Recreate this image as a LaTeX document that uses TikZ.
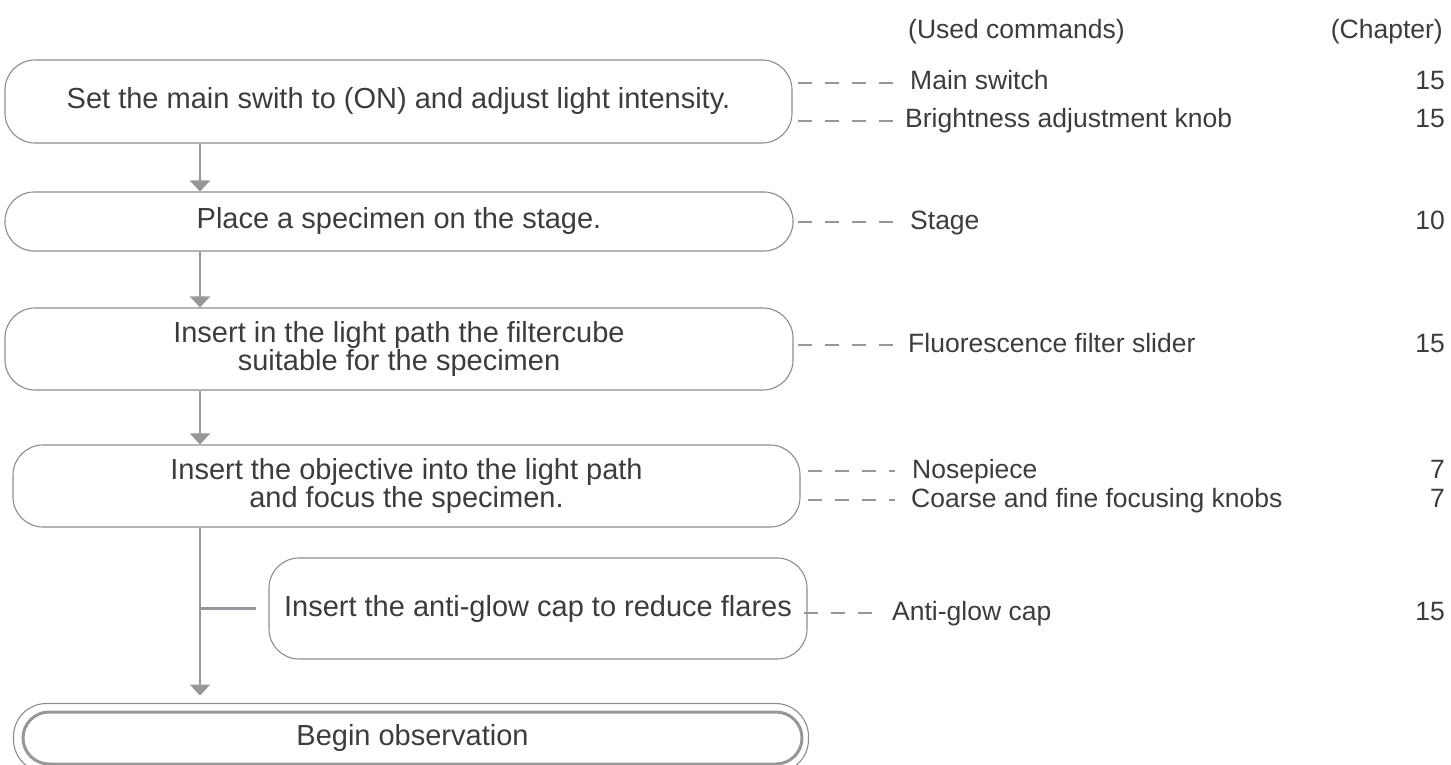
\documentclass[tikz,border=0pt]{standalone}
\usepackage{fontspec}
\setmainfont{Liberation Sans}
\usetikzlibrary{arrows.meta}
\definecolor{linegray}{RGB}{150,150,155}
\definecolor{boxgray}{RGB}{140,140,140}
\definecolor{txtgray}{RGB}{60,60,60}

\begin{document}
\begin{tikzpicture}[x=1pt,y=-1pt,
  stepbox/.style={draw=boxgray, line width=1.1pt, rounded corners=30pt, align=center,
    text=txtgray, font=\fontsize{29}{28}\selectfont, inner sep=0pt},
  flowline/.style={draw=linegray, line width=2.2pt},
  flowarrow/.style={flowline, -{Triangle[width=20pt,length=11pt]}},
  leader/.style={draw=linegray, line width=2.4pt, dash pattern=on 14pt off 13pt},
  cmd/.style={anchor=west, text=txtgray, font=\fontsize{26.5}{30}\selectfont,
    inner sep=0pt, text height=19pt, text depth=5pt},
  chap/.style={cmd, anchor=east}]
  \useasboundingbox (0,0) rectangle (1451,765);
  % Passi
  \node[stepbox, minimum width=787pt, minimum height=83pt] (s1) at (398.5,101.5)
    {Set the main swith to (ON) and adjust light intensity.};
  \node[stepbox, rounded corners=29pt, minimum width=788pt, minimum height=59pt] (s2) at (399,221.5)
    {Place a specimen on the stage.};
  \node[stepbox, minimum width=788pt, minimum height=82pt] (s3) at (399,349)
    {Insert in the light path the filtercube\\suitable for the specimen};
  \node[stepbox, minimum width=787pt, minimum height=82pt] (s4) at (406.5,486)
    {Insert the objective into the light path\\and focus the specimen.};
  \node[stepbox, minimum width=538pt, minimum height=101pt] (s5) at (538,608.5)
    {Insert the anti-glow cap to reduce flares};
  \node[stepbox, draw=linegray, line width=3pt, rounded corners=26pt,
    minimum width=779pt, minimum height=52pt] (fin) at (412.5,738) {Begin observation};
  \draw[draw=boxgray, line width=1.1pt, rounded corners=33pt]
    ([xshift=-8pt,yshift=7pt]fin.north west) rectangle ([xshift=5pt,yshift=-7pt]fin.south east);
  % Frecce
  \coordinate (trunk) at (200,0);
  \draw[flowarrow] (s1.south -| trunk) -- (s2.north -| trunk);
  \draw[flowarrow] (s2.south -| trunk) -- (s3.north -| trunk);
  \draw[flowarrow] (s3.south -| trunk) -- (s4.north -| trunk);
  \draw[flowarrow, shorten >=15pt] (s4.south -| trunk) -- (fin.north -| trunk);
  \draw[flowline] (trunk |- s5.west) -- ([xshift=-12pt]s5.west);
  % Comandi e capitoli
  \node[cmd] (hc) at (908,32) {(Used commands)};
  \node[chap] (hn) at (1443,32) {(Chapter)};
  \node[cmd] (c1) at (910,83) {Main switch};
  \node[chap] (n1) at (1445,83) {15};
  \node[cmd] (c2) at (905,121) {Brightness adjustment knob};
  \node[chap] (n2) at (1445,121) {15};
  \node[cmd] (c3) at (910,222) {Stage};
  \node[chap] (n3) at (1445,222) {10};
  \node[cmd] (c4) at (908,345) {Fluorescence filter slider};
  \node[chap] (n4) at (1445,345) {15};
  \node[cmd] (c5) at (912,471) {Nosepiece};
  \node[chap] (n5) at (1445,471) {7};
  \node[cmd] (c6) at (911,500) {Coarse and fine focusing knobs};
  \node[chap] (n6) at (1445,500) {7};
  \node[cmd] (c7) at (892,613) {Anti-glow cap};
  \node[chap] (n7) at (1445,613) {15};
  % Linee tratteggiate
  \draw[leader] (s1.east |- c1.west) ++(5pt,0pt) -- ([xshift=-15pt]c1.west);
  \draw[leader] (s1.east |- c2.west) ++(5pt,0pt) -- ([xshift=-10pt]c2.west);
  \draw[leader] (s2.east |- c3.west) ++(4pt,0pt) -- ([xshift=-17pt]c3.west);
  \draw[leader] (s3.east |- c4.west) ++(4pt,0pt) -- ([xshift=-8pt]c4.west);
  \draw[leader] (s4.east |- c5.west) ++(7pt,0pt) -- ([xshift=-17pt]c5.west);
  \draw[leader] (s4.east |- c6.west) ++(7pt,0pt) -- ([xshift=-16pt]c6.west);
  \draw[leader] (s5.east |- c7.west) ++(-4pt,0pt) -- ([xshift=-8pt]c7.west);
\end{tikzpicture}
\end{document}
